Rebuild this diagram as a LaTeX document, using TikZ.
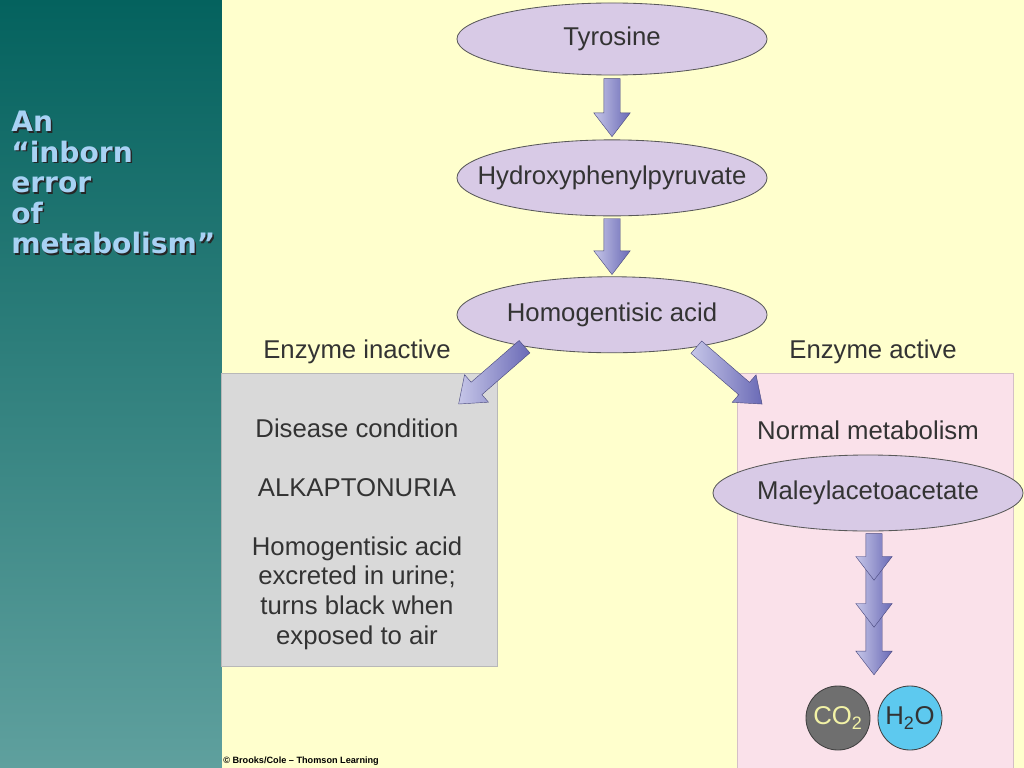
\documentclass[tikz,border=0pt]{standalone}
\usepackage{fontspec}
\setmainfont{Liberation Sans}
\newfontfamily\headfont{DejaVu Sans}
\usetikzlibrary{positioning,calc,shapes.geometric,shapes.arrows}

\definecolor{panetop}{HTML}{04625E}
\definecolor{panebot}{HTML}{5FA09E}
\definecolor{pagebg}{HTML}{FFFFCD}
\definecolor{ovalfill}{HTML}{D8CAE6}
\definecolor{arrlight}{HTML}{C6C6E8}
\definecolor{arrdark}{HTML}{6A6AB6}
\definecolor{sickfill}{HTML}{D9D9D9}
\definecolor{okfill}{HTML}{FAE1EA}
\definecolor{headblue}{HTML}{A8D2F4}
\definecolor{cofill}{HTML}{6F6F6F}
\definecolor{cotext}{HTML}{F2F2A6}
\definecolor{waterfill}{HTML}{5DC9EF}
\definecolor{inktext}{HTML}{333333}

\newcommand{\bigtext}{\fontsize{18.3}{21}\selectfont}

\begin{document}
\begin{tikzpicture}[x=0.025cm, y=-0.025cm,
  oval/.style={ellipse, draw=black!65, line width=0.6pt, fill=ovalfill,
               minimum width=7.75cm, minimum height=1.9cm,
               inner xsep=-1.5cm, inner ysep=0pt,
               font=\bigtext, text=inktext},
  panel/.style={draw=#1!85!black, line width=0.4pt, fill=#1, minimum width=6.9cm,
                anchor=north west, inner sep=0pt},
  lbl/.style={font=\bigtext, text=inktext, align=center},
  fatarrow/.style={single arrow, draw=arrdark!70!black, line width=0.3pt,
                   left color=arrlight, right color=arrdark,
                   inner xsep=0pt, inner ysep=0.2cm,
                   minimum width=0.9cm, single arrow head extend=0.25cm,
                   single arrow tip angle=75},
  fat/.style={to path={
      let \p1=(\tikztostart), \p2=(\tikztotarget),
          \n1={atan2(\y2-\y1,\x2-\x1)}, \n2={veclen(\x2-\x1,\y2-\y1)} in
      node[fatarrow, rotate=\n1, minimum height=\n2, anchor=tail] at (\p1) {}}},
  blob/.style={circle, draw=black!75, line width=0.6pt, minimum size=1.6cm,
               inner sep=0pt, font=\bigtext}
]
\useasboundingbox (0,0) rectangle (1024,768);

% backdrop
\fill[top color=panetop, bottom color=panebot] (0,0) rectangle (222,768);
\fill[pagebg] (222,0) rectangle (1024,768);

% slide title with its shadow
\node[anchor=north west, inner sep=0pt, align=left, text=black!85,
      font=\headfont\bfseries\fontsize{20}{21.7}\selectfont] (titleshadow) at (12.5,112.5)
  {An\\“inborn\\error\\of\\metabolism”};
\node[anchor=north west, inner sep=0pt, align=left, text=headblue,
      font=\headfont\bfseries\fontsize{20}{21.7}\selectfont] (title) at (11,111)
  {An\\“inborn\\error\\of\\metabolism”};

% main pathway
\node[oval, minimum height=1.8cm] (tyr) at (612,39) {Tyrosine};
\node[oval, below=1.6cm of tyr] (hpp) {Hydroxyphenylpyruvate};
\node[oval, below=1.5cm of hpp] (hga) {Homogentisic acid};

% the two outcomes
\node[panel=sickfill, minimum height=7.325cm] (sick) at (221,373) {};
\node[panel=okfill, minimum height=9.875cm] (ok) at (737,373) {};
\node[lbl] (offlbl) at (357,352) {Enzyme inactive};
\node[lbl] (onlbl) at (873,352) {Enzyme active};

\node[lbl] (sicktext) at (357,534)
  {Disease condition\\[21pt]ALKAPTONURIA\\[21pt]Homogentisic acid\\excreted in urine;\\turns black when\\exposed to air};
\node[lbl] (oktext) at (868,430) {Normal metabolism};
\node[oval] (mal) at (868,493) {Maleylacetoacetate};

\node[blob, fill=cofill, text=cotext] (co2) at (838,718) {CO\textsubscript{2}};
\node[blob, fill=waterfill, text=inktext] (h2o) at (910,718) {H\textsubscript{2}O};

\node[anchor=west, inner sep=0pt, font=\bfseries\fontsize{6.5}{7}\selectfont] (credit)
  at (223,761) {© Brooks/Cole – Thomson Learning};

% arrows
\path ($(tyr.south)+(0,3)$) to[fat] ($(hpp.north)+(0,-3)$);
\path ($(hpp.south)+(0,2)$) to[fat] ($(hga.north)+(0,-2)$);
\path (hga.200) to[fat] ($(sick.north east)+(-39,31)$);
\path (hga.-21) to[fat] ($(ok.north west)+(25,31)$);

\coordinate (drop1) at (874,580);
\coordinate (drop2) at (874,627);
\path ($(drop2)+(0,-12)$) to[fat] ($(co2.north)!0.5!(h2o.north)+(0,-11)$);
\path ($(drop1)+(0,-12)$) to[fat] (drop2);
\path ($(mal.south)+(6,2)$) to[fat] (drop1);
\end{tikzpicture}
\end{document}
